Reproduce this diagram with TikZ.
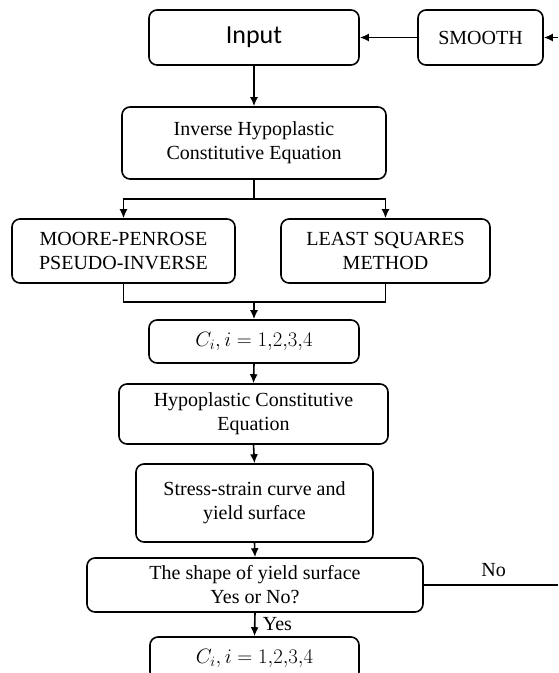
\documentclass[tikz,border=0pt]{standalone}
\usepackage{fontspec}
\setmainfont{Liberation Serif}
\newfontfamily\calibri{Carlito}
\usepackage{tikz}
\usetikzlibrary{arrows.meta,calc}

\tikzset{
  box/.style={draw,rounded corners=8pt,line width=1.6pt,align=center,inner sep=0pt,font=\fontsize{20}{24}\selectfont},
  arr/.style={line width=1.6pt,-{Latex[length=9pt,width=8pt]}},
  ln/.style={line width=1.6pt}
}

\begin{document}
\begin{tikzpicture}[x=1pt,y=-1pt]
\path[use as bounding box] (0,0) rectangle (558,673);
\clip (0,0) rectangle (558,673);
\node[box,minimum width=210pt,minimum height=55pt,font=\calibri\fontsize{26}{30}\selectfont] (input) at (254,37.5) {Input};
\node[box,minimum width=125pt,minimum height=55pt] (smooth) at (480.5,37.5) {SMOOTH};
\node[box,minimum width=264pt,minimum height=72pt] (inverse) at (254,143) {Inverse Hypoplastic\\Constitutive Equation};
\node[box,minimum width=223pt,minimum height=64pt] (moore) at (123.5,251) {MOORE-PENROSE\\PSEUDO-INVERSE};
\node[box,minimum width=209pt,minimum height=64pt] (least) at (385.5,251) {LEAST SQUARES\\METHOD};
\node[box,minimum width=210pt,minimum height=43pt,font=\fontsize{21}{24}\selectfont] (cfirst) at (254,341.5) {$C_i, i = 1{,}2{,}3{,}4$};
\node[box,minimum width=269pt,minimum height=60pt] (hypo) at (253.5,414) {Hypoplastic Constitutive\\Equation};
\node[box,minimum width=237pt,minimum height=78pt] (stress) at (254.5,503) {Stress-strain curve and\\yield surface};
\node[box,minimum width=336pt,minimum height=54pt] (shape) at (255,585) {The shape of yield surface\\Yes or No?};
\node[box,minimum width=209pt,minimum height=43pt,font=\fontsize{21}{24}\selectfont] (csecond) at (254.5,658.5) {$C_i, i = 1{,}2{,}3{,}4$};
% off-page ends
\coordinate (smoothin) at (558,37.5);
\coordinate (noout) at (558,585);
\coordinate (split) at (254,199);
\coordinate (merge) at (254,302);
% connectors
\draw[arr] (smoothin) -- (smooth.east);
\draw[arr] (smooth.west) -- (input.east);
\draw[arr] (input.south) -- (inverse.north);
\draw[ln] (inverse.south) -- (split);
\draw[arr] (split) -| (moore.north);
\draw[arr] (split) -| (least.north);
\draw[ln] (moore.south) |- (merge) -| (least.south);
\draw[arr] (merge) -- (cfirst.north);
\draw[arr] (cfirst.south) -- (hypo.north);
\draw[arr] (hypo.south) -- (stress.north);
\draw[arr] (stress.south) -- (shape.north);
\draw[arr] (shape.south) -- node[right=4pt,font=\fontsize{20}{24}\selectfont] {Yes} (csecond.north);
\draw[ln] (shape.east) -- node[above=4pt,pos=0.52,font=\fontsize{20}{24}\selectfont] {No} (noout);
\end{tikzpicture}
\end{document}
